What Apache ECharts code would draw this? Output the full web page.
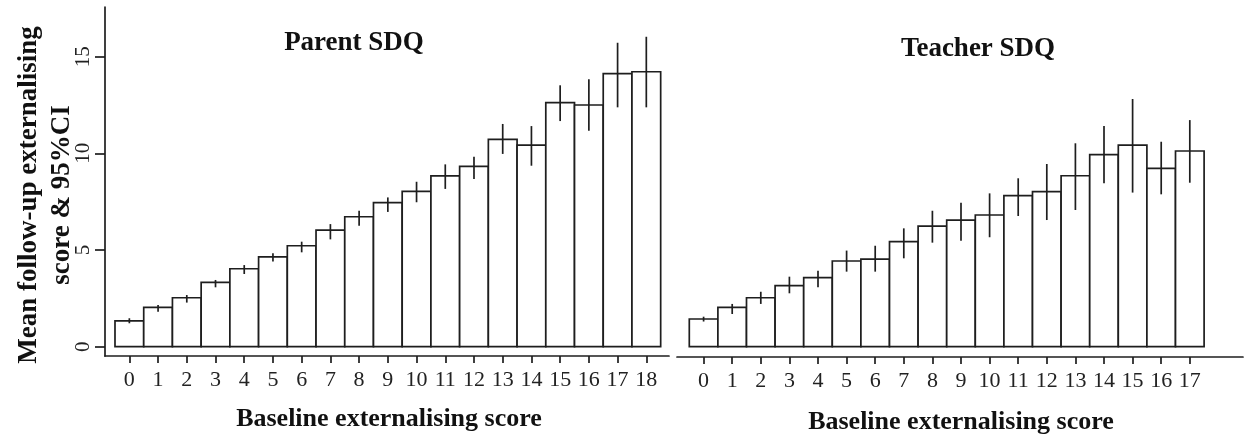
<!DOCTYPE html>
<html>
<head>
<meta charset="utf-8">
<script src="https://cdn.jsdelivr.net/npm/echarts@6/dist/echarts.min.js"></script>
<style>
  html, body { margin: 0; padding: 0; background: #fff; }
  #chart { width: 1248px; height: 438px; }
</style>
</head>
<body>
<div id="chart"></div>
<script>
// Baseline externalising score (x) and mean follow-up score with 95% CI
const parentBaseline = [0, 1, 2, 3, 4, 5, 6, 7, 8, 9, 10, 11, 12, 13, 14, 15, 16, 17, 18];
const parentMean = [1.33, 2.03, 2.53, 3.33, 4.03, 4.64, 5.22, 6.03, 6.72, 7.45, 8.03, 8.83, 9.33, 10.72, 10.43, 12.62, 12.5, 14.12, 14.22];
const parentLow  = [1.21, 1.81, 2.28, 3.07, 3.76, 4.40, 4.88, 5.55, 6.26, 6.97, 7.47, 8.16, 8.67, 9.97, 9.36, 11.67, 11.17, 12.38, 12.38];
const parentHigh = [1.47, 2.16, 2.67, 3.45, 4.22, 4.83, 5.43, 6.34, 7.03, 7.72, 8.53, 9.43, 9.83, 11.52, 11.41, 13.52, 13.83, 15.72, 16.03];

const teacherBaseline = [0, 1, 2, 3, 4, 5, 6, 7, 8, 9, 10, 11, 12, 13, 14, 15, 16, 17];
const teacherMean = [1.43, 2.03, 2.53, 3.16, 3.57, 4.43, 4.53, 5.43, 6.24, 6.55, 6.81, 7.81, 8.02, 8.84, 9.93, 10.43, 9.22, 10.12];
const teacherLow  = [1.30, 1.69, 2.21, 2.76, 3.07, 3.88, 3.88, 4.57, 5.38, 5.48, 5.66, 6.76, 6.55, 7.07, 8.45, 7.97, 7.88, 8.48];
const teacherHigh = [1.55, 2.21, 2.84, 3.62, 3.93, 4.97, 5.22, 6.12, 7.03, 7.45, 7.93, 8.71, 9.45, 10.52, 11.41, 12.81, 10.60, 11.72];

const yTicks = [0, 5, 10, 15];

const panelTitles = ['Parent SDQ', 'Teacher SDQ'];
const xTitle = 'Baseline externalising score';
const yTitle = 'Mean follow-up externalising\nscore & 95%CI';

const INK = '#1e1e1e';
const FONT = '"Liberation Serif", "DejaVu Serif", serif';

function renderBar(params, api) {
  const x = api.value(0);
  const v = api.value(1);
  const p0 = api.coord([x - 0.5, 0]);
  const p1 = api.coord([x + 0.5, v]);
  return {
    type: 'rect',
    shape: { x: p0[0], y: p1[1], width: p1[0] - p0[0], height: p0[1] - p1[1] },
    style: { fill: '#fff', stroke: INK, lineWidth: 1.7 }
  };
}

function renderCI(params, api) {
  const x = api.value(0);
  const lo = api.coord([x, api.value(1)]);
  const hi = api.coord([x, api.value(2)]);
  return {
    type: 'line',
    shape: { x1: lo[0], y1: lo[1], x2: hi[0], y2: hi[1] },
    style: { stroke: INK, lineWidth: 1.7 }
  };
}

function xAxisFor(gridIndex, cats, min, max) {
  return {
    type: 'value', gridIndex, min, max,
    axisLine: { show: true, onZero: false, lineStyle: { color: INK, width: 1.7 } },
    axisTick: { show: true, length: 7, inside: false, customValues: cats, lineStyle: { color: INK, width: 1.7 } },
    axisLabel: { show: true, customValues: cats, margin: 13, fontFamily: FONT, fontSize: 22, color: '#222' },
    splitLine: { show: false }
  };
}

const chart = echarts.init(document.getElementById('chart'), null, { renderer: 'canvas' });

chart.setOption({
  backgroundColor: '#fff',
  animation: false,
  grid: [
    { left: 105, top: 7, width: 564, height: 349 },
    { left: 677, top: 7, width: 566, height: 350 }
  ],
  xAxis: [
    xAxisFor(0, parentBaseline, -0.848, 18.79),
    xAxisFor(1, teacherBaseline, -0.93, 18.86)
  ],
  yAxis: [
    {
      type: 'value', gridIndex: 0, min: -0.483, max: 17.57,
      axisLine: { show: true, onZero: false, lineStyle: { color: INK, width: 1.7 } },
      axisTick: { show: true, length: 10, customValues: yTicks, lineStyle: { color: INK, width: 1.7 } },
      axisLabel: { show: true, rotate: 90, margin: 11, customValues: yTicks, fontFamily: FONT, fontSize: 21, color: '#222' },
      splitLine: { show: false }
    },
    {
      type: 'value', gridIndex: 1, min: -0.535, max: 17.57, show: false,
      splitLine: { show: false }
    }
  ],
  series: [
    {
      type: 'custom', xAxisIndex: 0, yAxisIndex: 0, renderItem: renderBar, z: 2,
      data: parentBaseline.map((b, i) => [b, parentMean[i]])
    },
    {
      type: 'custom', xAxisIndex: 0, yAxisIndex: 0, renderItem: renderCI, z: 3,
      data: parentBaseline.map((b, i) => [b, parentLow[i], parentHigh[i]])
    },
    {
      type: 'custom', xAxisIndex: 1, yAxisIndex: 1, renderItem: renderBar, z: 2,
      data: teacherBaseline.map((b, i) => [b, teacherMean[i]])
    },
    {
      type: 'custom', xAxisIndex: 1, yAxisIndex: 1, renderItem: renderCI, z: 3,
      data: teacherBaseline.map((b, i) => [b, teacherLow[i], teacherHigh[i]])
    }
  ],
  graphic: [
    { type: 'text', x: 354, y: 43, style: { text: panelTitles[0], font: 'bold 27px ' + FONT, fill: '#111', align: 'center', verticalAlign: 'middle' } },
    { type: 'text', x: 978, y: 49, style: { text: panelTitles[1], font: 'bold 27px ' + FONT, fill: '#111', align: 'center', verticalAlign: 'middle' } },
    { type: 'text', x: 389, y: 419, style: { text: xTitle, font: 'bold 26px ' + FONT, fill: '#111', align: 'center', verticalAlign: 'middle' } },
    { type: 'text', x: 961, y: 422, style: { text: xTitle, font: 'bold 26px ' + FONT, fill: '#111', align: 'center', verticalAlign: 'middle' } },
    { type: 'text', x: 46, y: 195, rotation: Math.PI / 2, style: { text: yTitle, font: 'bold 27px ' + FONT, lineHeight: 33, fill: '#111', align: 'center', verticalAlign: 'middle' } }
  ]
});
</script>
</body>
</html>
